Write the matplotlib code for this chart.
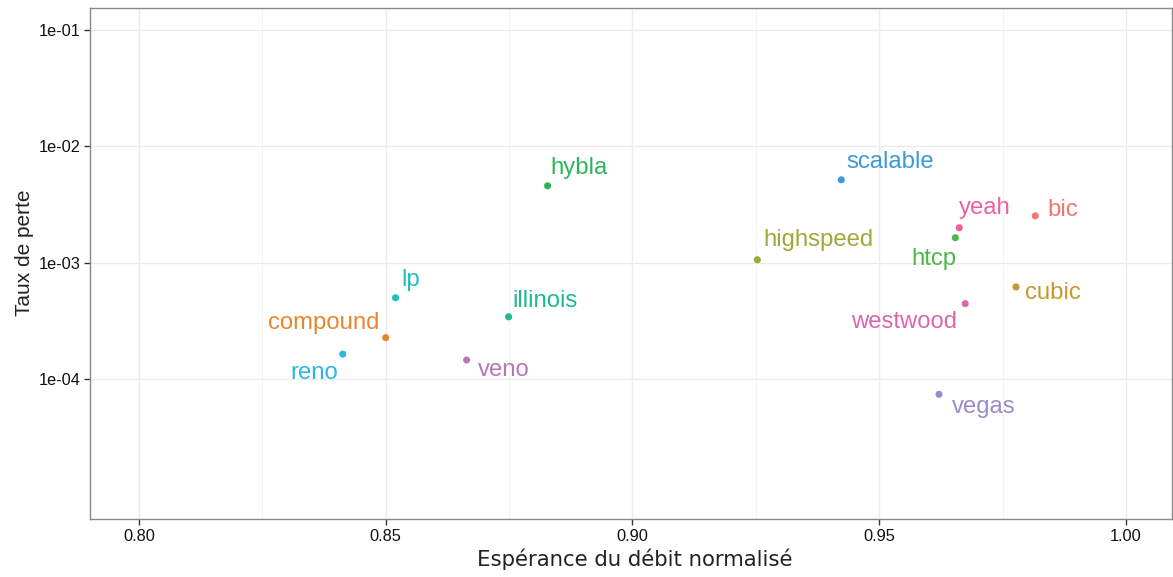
import matplotlib
matplotlib.use("Agg")
import matplotlib.pyplot as plt
from matplotlib.ticker import FixedLocator, NullLocator

# Congestion-control algorithms: normalised throughput expectation vs. loss rate
algos = ["bic", "compound", "cubic", "highspeed", "htcp", "hybla", "illinois",
         "lp", "reno", "scalable", "vegas", "veno", "westwood", "yeah"]
throughput = [0.9816, 0.8500, 0.9777, 0.9253, 0.9654, 0.8828, 0.8749,
              0.8520, 0.8413, 0.9423, 0.9621, 0.8664, 0.9674, 0.9662]
loss_rate = [2.53e-3, 2.27e-4, 6.2e-4, 1.06e-3, 1.64e-3, 4.58e-3, 3.43e-4,
             5.0e-4, 1.64e-4, 5.16e-3, 7.4e-5, 1.46e-4, 4.45e-4, 2.0e-3]

x_ticks = [0.80, 0.85, 0.90, 0.95, 1.00]
x_tick_labels = ["0.80", "0.85", "0.90", "0.95", "1.00"]
y_ticks = [1e-4, 1e-3, 1e-2, 1e-1]
y_tick_labels = ["1e-04", "1e-03", "1e-02", "1e-01"]

colors = ["#F0766E", "#E6872D", "#C49A2E", "#9DAA38", "#4DB848", "#2CB55A",
          "#1DBA8D", "#1FBFC2", "#2DB5E8", "#3D9AD8", "#9A8CCB", "#B577B8",
          "#DB66AE", "#F0609C"]

# label placement: (dx px, dy px, horizontal alignment)
label_pos = {
    "bic": (12, 6, "left"), "compound": (-6, 15, "right"),
    "cubic": (9, -6, "left"), "highspeed": (6, 20, "left"),
    "htcp": (1, -21, "right"), "hybla": (3, 18, "left"),
    "illinois": (4, 16, "left"), "lp": (6, 18, "left"),
    "reno": (-5, -19, "right"), "scalable": (5, 18, "left"),
    "vegas": (13, -13, "left"), "veno": (11, -10, "left"),
    "westwood": (-8, -18, "right"), "yeah": (0, 20, "left"),
}

W, H = 1173, 577
fig = plt.figure(figsize=(W / 100, H / 100), dpi=100)
ax = fig.add_axes([90 / W, 1 - 519 / H, (1172 - 90) / W, (519 - 8) / H])

ax.set_yscale("log")
ax.set_xlim(0.7901, 1.0093)
ax.set_ylim(6.28e-6, 0.1545)

ax.set_axisbelow(True)
ax.xaxis.set_major_locator(FixedLocator(x_ticks))
ax.xaxis.set_minor_locator(FixedLocator([0.825, 0.875, 0.925, 0.975]))
ax.yaxis.set_major_locator(FixedLocator(y_ticks))
ax.yaxis.set_minor_locator(NullLocator())
ax.set_xticklabels(x_tick_labels)
ax.set_yticklabels(y_tick_labels)
ax.grid(True, which="major", color="#EBEBEB", linewidth=1.0)
ax.grid(True, which="minor", axis="x", color="#F4F4F4", linewidth=0.8)

for sp in ax.spines.values():
    sp.set_color("#888888")
    sp.set_linewidth(1.0)

ax.tick_params(which="major", length=4, width=1, color="#333333",
               labelsize=11.8, labelcolor="#111111", pad=3)
ax.tick_params(which="minor", length=0)
for lab in ax.get_xticklabels() + ax.get_yticklabels():
    lab.set_family("Liberation Sans")

for name, x, y, c in zip(algos, throughput, loss_rate, colors):
    ax.scatter([x], [y], s=26, color=c, edgecolors="none", zorder=3)
    dx, dy, ha = label_pos[name]
    ax.annotate(name, (x, y), xytext=(dx * 0.72, dy * 0.72),
                textcoords="offset points", ha=ha, va="center",
                fontsize=17.2, color=c, family="Liberation Sans", zorder=4)

ax.set_xlabel("Espérance du débit normalisé", fontsize=15.3,
              family="DejaVu Sans", color="#222222", labelpad=4)
ax.xaxis.set_label_coords((635 - 90) / (1172 - 90), -0.058)
ax.set_ylabel("Taux de perte", fontsize=15, family="Liberation Sans",
              color="#222222", labelpad=10)
ax.yaxis.set_label_coords(-(90 - 34) / (1172 - 90), 0.5 + (263.5 - 253) / 511)

fig.savefig("out.png", dpi=100, facecolor="white")
